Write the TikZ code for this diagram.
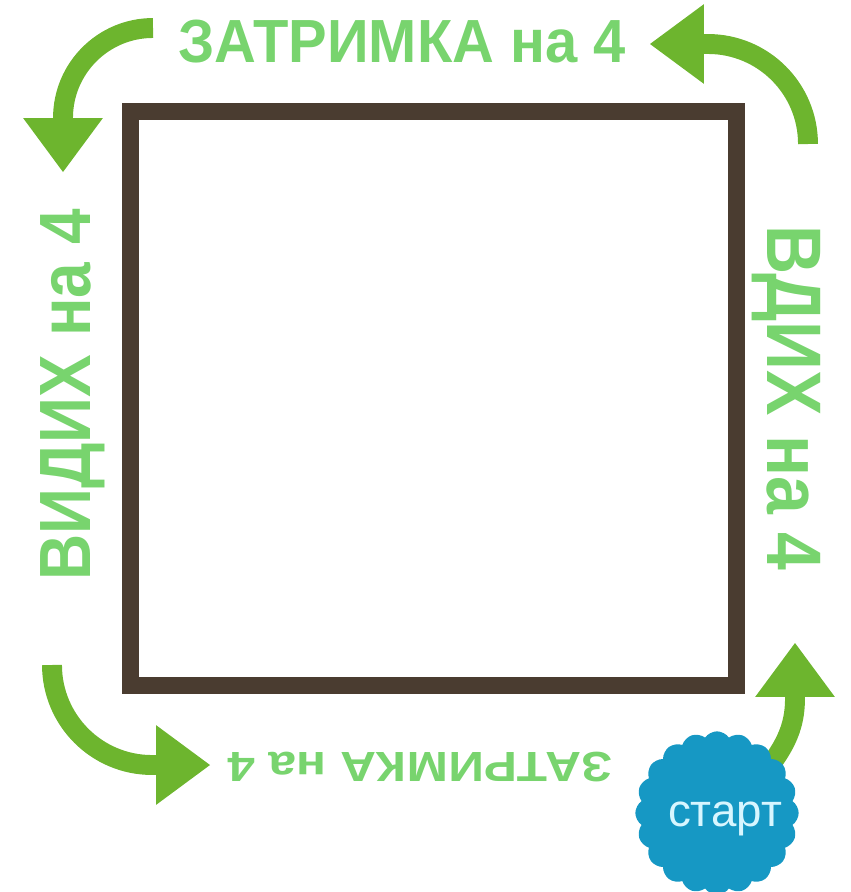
\documentclass[tikz,border=0pt]{standalone}
\usepackage{fontspec}
\setmainfont{Liberation Sans}
\newfontfamily\narrowfont{Liberation Sans}[FakeStretch=0.88]
\newfontfamily\topfont{Liberation Sans}[FakeStretch=0.95]
\newfontfamily\widefont{Liberation Sans}[FakeStretch=1.18]
\usetikzlibrary{arrows.meta, shapes.symbols}
\definecolor{framebrown}{RGB}{74,60,48}
\definecolor{arrowgreen}{RGB}{109,181,46}
\definecolor{labelgreen}{RGB}{120,212,110}
\definecolor{cloudblue}{RGB}{22,152,196}
\definecolor{starttext}{RGB}{215,246,255}

\begin{document}
\begin{tikzpicture}[
        x=0.03cm, y=0.03cm,
        frame/.style={draw=framebrown, line width=14.5pt, minimum width=18.15cm, minimum height=17.19cm, inner sep=0pt},
        label/.style={text=labelgreen, inner sep=0pt, anchor=base},
        flow/.style={draw=arrowgreen, line width=17pt, -{Triangle[width=68pt, length=46pt, line width=0pt]}},
        startcloud/.style={cloud, cloud puffs=20, cloud puff arc=110, aspect=1, fill=cloudblue, minimum size=4.9cm, inner sep=0pt}
    ]
        \useasboundingbox (0,0) rectangle (851,-892);

        % ================= RAMKA =================
        \node[frame] (box) at (433.5,-398.5) {};

        % ================= ETIKETY =================
        \node[label, font=\topfont\bfseries\fontsize{52}{52}\selectfont] (hold1) at (402,-62) {ЗАТРИМКА на 4};
        \node[label, rotate=-90, font=\narrowfont\bfseries\fontsize{66}{66}\selectfont] (inhale) at (767,-398) {ВДИХ на 4};
        \node[label, rotate=90, font=\narrowfont\bfseries\fontsize{62}{62}\selectfont] (exhale) at (90,-395) {ВИДИХ на 4};
        \node[label, rotate=180, font=\widefont\bfseries\fontsize{36}{36}\selectfont] (hold2) at (420,-752) {ЗАТРИМКА на 4};

        % ================= STRILKY =================
        \coordinate (tl) at (153,-28);
        \coordinate (tr) at (808,-144);
        \coordinate (bl) at (52,-665);
        \coordinate (br) at (768,-768);

        \draw[flow] (tl) arc[start angle=90, end angle=180, radius=90] -- ++(0,-54);
        \draw[flow] (tr) arc[start angle=0, end angle=90, radius=100] -- ++(-58,0);
        \draw[flow] (bl) arc[start angle=180, end angle=270, radius=100] -- ++(58,0);
        \draw[flow] (br) .. controls (790,-740) and (795,-720) .. (795,-698) -- (795,-643);

        % ================= START =================
        \node[startcloud] (start) at (717,-813) {};
        \node[text=starttext, font=\fontsize{39}{39}\selectfont] (starttxt) at (725,-819) {старт};

    \end{tikzpicture}
\end{document}
